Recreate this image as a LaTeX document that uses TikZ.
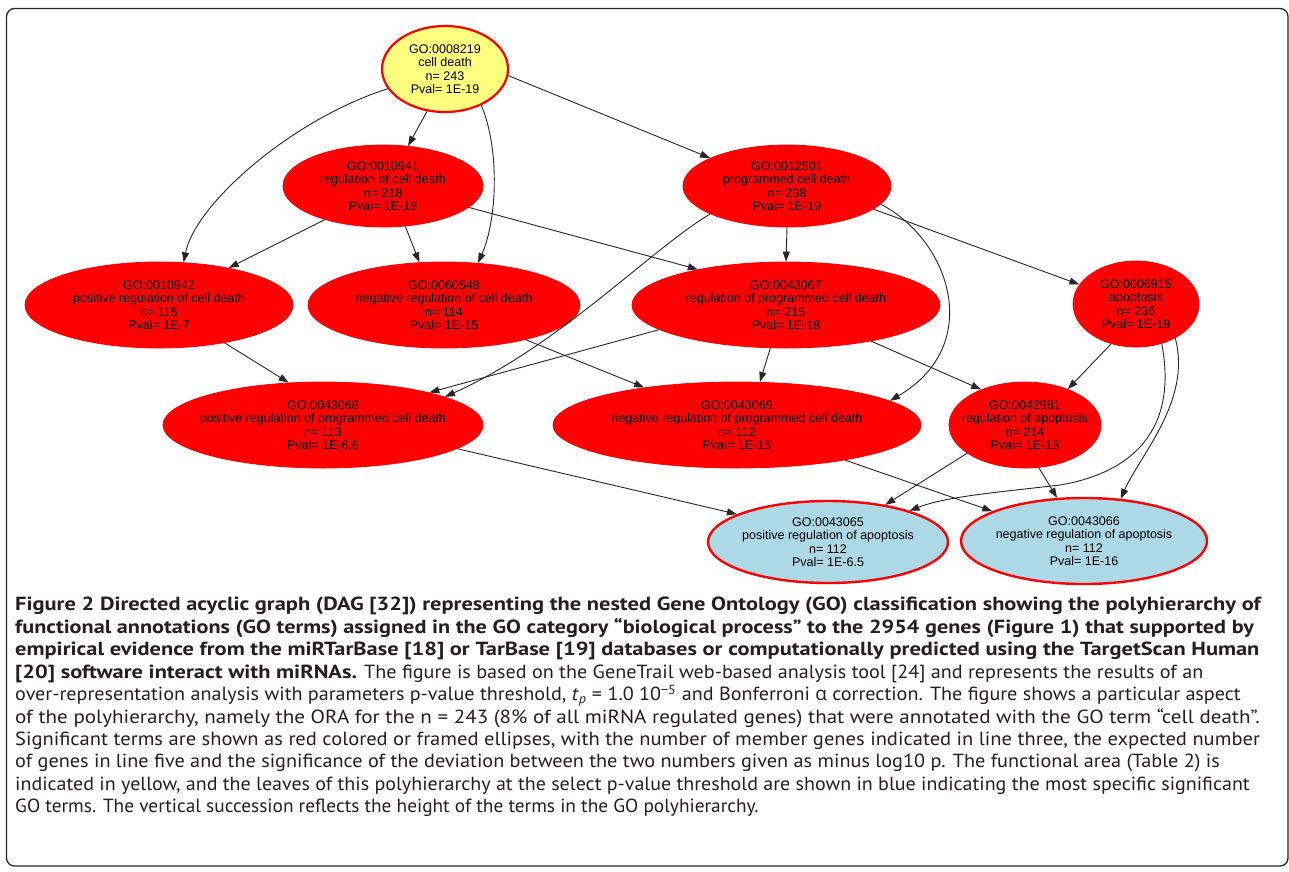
\documentclass[tikz,border=0pt]{standalone}
\usepackage{fontspec}
\usepackage{graphicx}
\setmainfont{PT Sans}[FakeStretch=1.06, BoldFeatures={FakeStretch=1.18}]
\newfontfamily\nodefont{Liberation Sans}
\newfontfamily\greekfont{Open Sans}
\usetikzlibrary{shapes.geometric,arrows.meta}
\definecolor{goyellow}{RGB}{255,255,128}
\definecolor{goblue}{RGB}{173,216,230}
\definecolor{capink}{RGB}{35,31,32}
\newcommand\capline[2]{\scalebox{#1}[1]{#2}}
\tikzset{
 goterm/.style={ellipse, inner sep=0pt},
 sig/.style={goterm, fill=red, draw=red, line width=0.8pt},
 area/.style={goterm, fill=goyellow, draw=red, line width=2.2pt},
 leaf/.style={goterm, fill=goblue, draw=red, line width=2.4pt},
 lbl/.style={font=\nodefont\fontsize{12.5}{13.5}\selectfont, align=center, inner sep=0pt, text=black},
 link/.style={draw=black!85, line width=0.9pt, -{Triangle[length=10pt,width=7pt]}},
 frame/.style={draw=black!85, line width=1.3pt, rounded corners=8pt},
 caption/.style={anchor=north west, align=left, inner sep=0pt, text=capink,
   font=\fontsize{19}{22.45}\selectfont},
}
\begin{document}
\begin{tikzpicture}[x=1pt,y=-1pt]
\useasboundingbox (0,0) rectangle (1289,871);
\draw[frame] (6.5,8.5) rectangle (1288,866);

% nodes
\node[area, minimum width=126pt, minimum height=86pt, label={[lbl]center:{GO:0008219\\cell death\\n= 243\\Pval= 1E-19}}] (n1) at (445,69) {};
\node[sig, minimum width=200pt, minimum height=82pt, label={[lbl]center:{GO:0010941\\regulation of cell death\\n= 218\\Pval= 1E-18}}] (n2) at (383,186) {};
\node[sig, minimum width=208pt, minimum height=82pt, label={[lbl]center:{GO:0012501\\programmed cell death\\n= 238\\Pval= 1E-19}}] (n3) at (787,186) {};
\node[sig, minimum width=268pt, minimum height=86pt, label={[lbl]center:{GO:0010942\\positive regulation of cell death\\n= 115\\Pval= 1E-7}}] (n4) at (159,305) {};
\node[sig, minimum width=272pt, minimum height=86pt, label={[lbl]center:{GO:0060548\\negative regulation of cell death\\n= 114\\Pval= 1E-15}}] (n5) at (444,305) {};
\node[sig, minimum width=308pt, minimum height=86pt, label={[lbl]center:{GO:0043067\\regulation of programmed cell death\\n= 215\\Pval= 1E-18}}] (n6) at (786,305) {};
\node[sig, minimum width=126pt, minimum height=86pt, label={[lbl]center:{GO:0006915\\apoptosis\\n= 236\\Pval= 1E-19}}] (n7) at (1136,304) {};
\node[sig, minimum width=320pt, minimum height=86pt, label={[lbl]center:{GO:0043068\\positive regulation of programmed cell death\\n= 113\\Pval= 1E-6.6}}] (n8) at (323,425) {};
\node[sig, minimum width=368pt, minimum height=86pt, label={[lbl]center:{GO:0043069\\negative regulation of programmed cell death\\n= 112\\Pval= 1E-15}}] (n9) at (737,425) {};
\node[sig, minimum width=152pt, minimum height=86pt, label={[lbl]center:{GO:0042981\\regulation of apoptosis\\n= 214\\Pval= 1E-18}}] (n10) at (1025,425) {};
\node[leaf, minimum width=240pt, minimum height=82pt, label={[lbl]center:{GO:0043065\\positive regulation of apoptosis\\n= 112\\Pval= 1E-6.5}}] (n11) at (828,542) {};
\node[leaf, minimum width=246pt, minimum height=86pt, label={[lbl]center:{GO:0043066\\negative regulation of apoptosis\\n= 112\\Pval= 1E-16}}] (n12) at (1084,541) {};

% connectors
\draw[link] (n1.-113) -- (n2.58);
\draw[link] (n1.-6) -- (n3.160);
\draw[link] (n1.199) .. controls (290,120) and (195,205) .. (n4.60);
\draw[link] (n1.-45) .. controls (500,150) and (497,220) .. (n5.51);
\draw[link] (n2.210) -- (n4.28);
\draw[link] (n2.-61) -- (n5.120);
\draw[link] (n2.-14) -- (n6.158);
\draw[link] (n3.-90) -- (n6.90);
\draw[link] (n3.-15) -- (n7.161);
\draw[link] (n3.200) .. controls (650,250) and (560,345) .. (n8.13);
\draw[link] (n3.-11) .. controls (950,240) and (985,345) .. (n9.9);
\draw[link] (n4.-30) -- (n8.129);
\draw[link] (n5.-23) -- (n9.158);
\draw[link] (n6.191) -- (n8.17);
\draw[link] (n6.-110) -- (n9.62);
\draw[link] (n6.-23) -- (n10.141);
\draw[link] (n7.238) -- (n10.40);
\draw[link] (n7.-57) .. controls (1180,440) and (1120,475) .. (1060,485) .. controls (990,493) and (945,497) .. (n11.21);
\draw[link] (n7.-41) .. controls (1192,400) and (1140,455) .. (n12.49);
\draw[link] (n10.206) -- (n11.33);
\draw[link] (n10.-72) -- (n12.122);
\draw[link] (n8.-10) -- (n11.163);
\draw[link] (n9.-18) -- (n12.162);

% caption
\node[caption] (cap) at (15,597) {%
\textbf{Figure 2 Directed acyclic graph (DAG [32]) representing the nested Gene Ontology (GO) classification showing the polyhierarchy of}\\
\capline{0.991}{\textbf{functional annotations (GO terms) assigned in the GO category “biological process” to the 2954 genes (Figure 1) that supported by}}\\
\textbf{empirical evidence from the miRTarBase [18] or TarBase [19] databases or computationally predicted using the TargetScan Human}\\
\textbf{[20] software interact with miRNAs.} The figure is based on the GeneTrail web-based analysis tool [24] and represents the results of an\\
over-representation analysis with parameters p-value threshold, \textit{t}\textsubscript{\textit{p}} = 1.0 10\textsuperscript{−5} and Bonferroni {\greekfont α} correction. The figure shows a particular aspect\\
\capline{1.045}{of the polyhierarchy, namely the ORA for the n = 243 (8\% of all miRNA regulated genes) that were annotated with the GO term “cell death”.}\\
\capline{1.02}{Significant terms are shown as red colored or framed ellipses, with the number of member genes indicated in line three, the expected number}\\
\capline{1.005}{of genes in line five and the significance of the deviation between the two numbers given as minus log10 p. The functional area (Table 2) is}\\
\capline{0.994}{indicated in yellow, and the leaves of this polyhierarchy at the select p-value threshold are shown in blue indicating the most specific significant}\\
\capline{0.96}{GO terms. The vertical succession reflects the height of the terms in the GO polyhierarchy.}};
\end{tikzpicture}
\end{document}
